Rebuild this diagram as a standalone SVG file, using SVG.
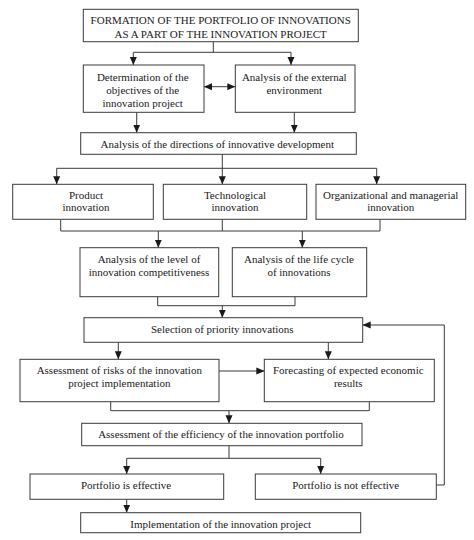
<svg xmlns="http://www.w3.org/2000/svg" width="474" height="540" viewBox="0 0 474 540">
<style>
.box{fill:#fff;stroke:#3a3a3a;stroke-width:1}
.t{font-family:"Liberation Serif","Times New Roman",serif;font-size:11px;fill:#1a1a1a;text-anchor:middle}
.c{fill:none;stroke:#3a3a3a;stroke-width:1}
.a{marker-end:url(#ah)}
</style>
<defs>
<marker id="ah" markerUnits="userSpaceOnUse" markerWidth="8" markerHeight="8" viewBox="0 0 8 8" refX="8" refY="4" orient="auto-start-reverse">
<path d="M0,0.5 L8,4 L0,7.5 z" fill="#1a1a1a"/>
</marker>
</defs>
<rect width="474" height="540" fill="#fff"/>
<g id="connectors">
<path class="c" d="M213.3,41.7 V52.3 M133.3,52.3 H291"/>
<path class="c a" d="M133.3,52.3 V65"/>
<path class="c a" d="M291,52.3 V65"/>
<path class="c a" d="M204,86.7 H235.3" marker-start="url(#ah)"/>
<path class="c a" d="M136.7,112.3 V132.7"/>
<path class="c a" d="M294.3,112.3 V132.7"/>
<path class="c" d="M222.3,154.3 V168.3 M56.7,168.3 H376.7"/>
<path class="c a" d="M56.7,168.3 V184.3"/>
<path class="c a" d="M222.3,168.3 V184.3"/>
<path class="c a" d="M376.7,168.3 V184.3"/>
<path class="c" d="M60.7,219.3 V231 H380 V219.3 M222.3,219.3 V231"/>
<path class="c a" d="M158.3,231 V247.7"/>
<path class="c a" d="M302.3,231 V247.7"/>
<path class="c" d="M157.7,296.7 V305.7 H295 V296.7"/>
<path class="c a" d="M222.3,305.7 V317.7"/>
<path class="c a" d="M118.3,342.3 V359.3"/>
<path class="c a" d="M328.3,342.3 V359.3"/>
<path class="c a" d="M219,371 H264.3"/>
<path class="c" d="M110.7,401.7 V410.7 H369.3 V401.7"/>
<path class="c a" d="M229,410.7 V423.3"/>
<path class="c" d="M229,445.7 V458.3 M126.7,458.3 H320.7"/>
<path class="c a" d="M126.7,458.3 V474"/>
<path class="c a" d="M320.7,458.3 V474"/>
<path class="c a" d="M126.7,499.3 V512.7"/>
<path class="c a" d="M436.3,485 H444.3 V325 H362.7"/>
</g>
<g id="n1"><rect class="box" x="83.3" y="9.3" width="275" height="32.4"/>
<text class="t" x="220.7" y="24">FORMATION OF THE PORTFOLIO OF INNOVATIONS</text>
<text class="t" x="220.7" y="37.5">AS A PART OF THE INNOVATION PROJECT</text></g>
<g id="n2"><rect class="box" x="83.3" y="65" width="120.7" height="47.3"/>
<text class="t" x="142.7" y="80.5">Determination of the</text>
<text class="t" x="142.7" y="93.8">objectives of the</text>
<text class="t" x="142.7" y="106.5">innovation project</text></g>
<g id="n3"><rect class="box" x="235.3" y="65" width="119.7" height="47.3"/>
<text class="t" x="294.3" y="80.5">Analysis of the external</text>
<text class="t" x="294.3" y="93.8">environment</text></g>
<g id="n4"><rect class="box" x="80.7" y="132.7" width="275.6" height="21.6"/>
<text class="t" x="217.3" y="147.8">Analysis of the directions of innovative development</text></g>
<g id="n5"><rect class="box" x="12.7" y="184.3" width="140.6" height="35"/>
<text class="t" x="86" y="198.8">Product</text>
<text class="t" x="86" y="211.1">innovation</text></g>
<g id="n6"><rect class="box" x="163.3" y="184.3" width="143.4" height="35"/>
<text class="t" x="235" y="198.8">Technological</text>
<text class="t" x="235" y="211.1">innovation</text></g>
<g id="n7"><rect class="box" x="316" y="184.3" width="149.7" height="35"/>
<text class="t" x="390.7" y="198.8">Organizational and managerial</text>
<text class="t" x="390.7" y="211.1">innovation</text></g>
<g id="n8"><rect class="box" x="80" y="247.7" width="138.7" height="49"/>
<text class="t" x="149" y="263.1">Analysis of the level of</text>
<text class="t" x="149" y="275.5">innovation competitiveness</text></g>
<g id="n9"><rect class="box" x="232.3" y="247.7" width="134.4" height="49"/>
<text class="t" x="299" y="263.1">Analysis of the life cycle</text>
<text class="t" x="299" y="275.5">of innovations</text></g>
<g id="n10"><rect class="box" x="84" y="317.7" width="278.7" height="24.6"/>
<text class="t" x="222.3" y="332.8">Selection of priority innovations</text></g>
<g id="n11"><rect class="box" x="20" y="359.3" width="199" height="42.4"/>
<text class="t" x="119.3" y="373.8">Assessment of risks of the innovation</text>
<text class="t" x="119.3" y="387.1">project implementation</text></g>
<g id="n12"><rect class="box" x="264.3" y="359.3" width="170" height="42.4"/>
<text class="t" x="348.3" y="373.8">Forecasting of expected economic</text>
<text class="t" x="348.3" y="387.1">results</text></g>
<g id="n13"><rect class="box" x="81.7" y="423.3" width="280.3" height="22.4"/>
<text class="t" x="221" y="437.8">Assessment of the efficiency of the innovation portfolio</text></g>
<g id="n14"><rect class="box" x="30" y="474" width="193.7" height="25.3"/>
<text class="t" x="126" y="488.8">Portfolio is effective</text></g>
<g id="n15"><rect class="box" x="255.3" y="474" width="181" height="25.3"/>
<text class="t" x="345.7" y="488.8">Portfolio is not effective</text></g>
<g id="n16"><rect class="box" x="80.7" y="512.7" width="280" height="20"/>
<text class="t" x="220.7" y="527.8">Implementation of the innovation project</text></g>
</svg>
